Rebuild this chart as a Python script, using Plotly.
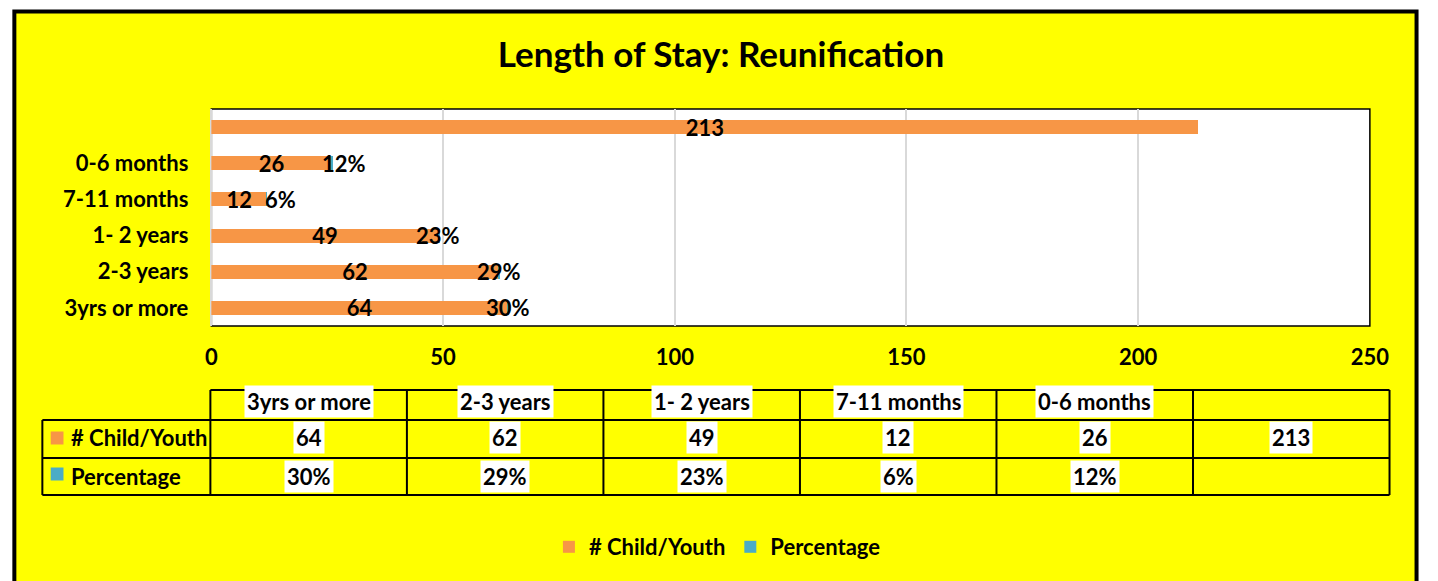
import plotly.graph_objects as go

W, H = 1438, 581

# ---- data ----
title_text = "Length of Stay: Reunification"
categories = ["3yrs or more", "2-3 years", "1- 2 years", "7-11 months", "0-6 months", " "]
counts = [64, 62, 49, 12, 26, 213]
percent = [30, 29, 23, 6, 12, None]
x_ticks = [0, 50, 100, 150, 200, 250]
series_names = ["# Child/Youth", "Percentage"]
series_colors = ["#F79646", "#4BACC6"]

# style: small horizontal nudges (px) Excel applied to crowded percentage labels
pct_label_nudge = [0, 0, 0, 14, 12, 0]

FONT = "Lato"
FS = 22
BG = "#FFFF00"


def px(x):
    return x / W


def py(y):
    return 1 - y / H


def bold(size=FS):
    return dict(family=FONT, size=size, color="black", weight="bold")


pct_frac = [p / 100 if p is not None else None for p in percent]
pct_text = [f"{p}%" if p is not None else "" for p in percent]

fig = go.Figure()
fig.add_trace(go.Bar(
    y=categories, x=counts, orientation="h", name=series_names[0],
    marker=dict(color=series_colors[0], line=dict(width=0)),
    text=[str(c) for c in counts], textposition="inside",
    insidetextanchor="middle", textangle=0, constraintext="none",
    textfont=bold(), hoverinfo="x+y",
))
fig.add_trace(go.Bar(
    y=categories, x=pct_frac, orientation="h", name=series_names[1],
    marker=dict(color=series_colors[1], line=dict(width=0)),
    hoverinfo="skip",
))

# plot area geometry (pixels)
PL, PR, PT, PB = 209, 1388, 109, 326

shapes = []
annotations = []

# percentage labels centred on the end of each count bar
for cat, cnt, txt, nudge in zip(categories, counts, pct_text, pct_label_nudge):
    if not txt:
        continue
    annotations.append(dict(text=txt, x=cnt, y=cat, xref="x", yref="y",
                            xanchor="center", yanchor="middle", showarrow=False,
                            xshift=nudge, font=bold()))

# yellow chart area with black border
shapes.append(dict(type="rect", xref="paper", yref="paper",
                   x0=px(8.5), x1=px(1435.5), y0=py(620), y1=py(11.5),
                   fillcolor=BG, line=dict(color="black", width=4), layer="below"))
# white plot area
shapes.append(dict(type="rect", xref="x domain", yref="y domain",
                   x0=0, x1=1, y0=0, y1=1, fillcolor="white",
                   line=dict(color="black", width=1.5), layer="below"))

# ---- data table ----
ncol = len(categories)
col_left, col_w = 208, 200
col_edges = [col_left + col_w * i for i in range(ncol + 1)]
row_lines = [390, 420, 458, 495]
label_left = 37
lw = 2


def hline(y, x0, x1):
    shapes.append(dict(type="line", xref="paper", yref="paper",
                       x0=px(x0), x1=px(x1), y0=py(y), y1=py(y),
                       line=dict(color="black", width=lw)))


def vline(x, y0, y1):
    shapes.append(dict(type="line", xref="paper", yref="paper",
                       x0=px(x), x1=px(x), y0=py(y0), y1=py(y1),
                       line=dict(color="black", width=lw)))


hline(row_lines[0], col_edges[0], col_edges[-1])
for yl in row_lines[1:]:
    hline(yl, label_left, col_edges[-1])
vline(label_left, row_lines[1], row_lines[-1])
for xe in col_edges:
    vline(xe, row_lines[0], row_lines[-1])

row_text_y = [401, 437, 476]
table_rows = [
    [c.strip() for c in categories],
    [str(c) for c in counts],
    pct_text,
]
for r, vals in enumerate(table_rows):
    for i, v in enumerate(vals):
        if not v:
            continue
        cx = (col_edges[i] + col_edges[i + 1]) / 2
        annotations.append(dict(
            text=v, x=px(cx), y=py(row_text_y[r]), xref="paper", yref="paper",
            xanchor="center", yanchor="middle", showarrow=False,
            font=bold(), bgcolor="white", borderpad=2,
        ))

# legend keys in the table
key_y = [438, 474]
for k in range(2):
    shapes.append(dict(type="rect", xref="paper", yref="paper",
                       x0=px(45.5), x1=px(58.5), y0=py(key_y[k] + 6.5), y1=py(key_y[k] - 6.5),
                       fillcolor=series_colors[k], line=dict(width=0)))
    annotations.append(dict(
        text=series_names[k], x=px(64), y=py(row_text_y[k + 1]), xref="paper", yref="paper",
        xanchor="left", yanchor="middle", showarrow=False, font=bold(),
    ))

fig.update_layout(
    width=W, height=H, autosize=False,
    margin=dict(l=0, r=0, t=0, b=0),
    paper_bgcolor="white", plot_bgcolor="white",
    barmode="stack", bargap=0.613,
    title=dict(text=title_text, x=px(721), xanchor="center", y=py(55), yanchor="middle",
               font=bold(35)),
    xaxis=dict(domain=[px(PL), px(PR)], range=[0, 250], tickvals=x_ticks,
               showgrid=True, gridcolor="#D9D9D9", gridwidth=1.5,
               zeroline=True, zerolinecolor="#D9D9D9", zerolinewidth=1.5,
               showline=False, ticks="", tickfont=bold(), ticklabelstandoff=16,
               fixedrange=True),
    yaxis=dict(domain=[py(PB), py(PT)], categoryorder="array", categoryarray=categories,
               range=[-0.5, len(categories) - 0.5],
               showgrid=False, zeroline=False, showline=False, ticks="",
               tickfont=bold(), ticklabelstandoff=22, fixedrange=True),
    legend=dict(orientation="h", x=px(724), xanchor="center", y=py(547), yanchor="middle",
                font=bold(), bgcolor="rgba(0,0,0,0)", traceorder="normal"),
    shapes=shapes,
    annotations=annotations,
    showlegend=True,
)

fig.write_html(
    "out.html",
    config={"responsive": False, "displayModeBar": False},
    post_script=(
        "document.documentElement.style.margin='0';"
        "document.body.style.margin='0';"
        "document.body.style.overflow='hidden';"
        "document.documentElement.style.overflow='hidden';"
    ),
)
